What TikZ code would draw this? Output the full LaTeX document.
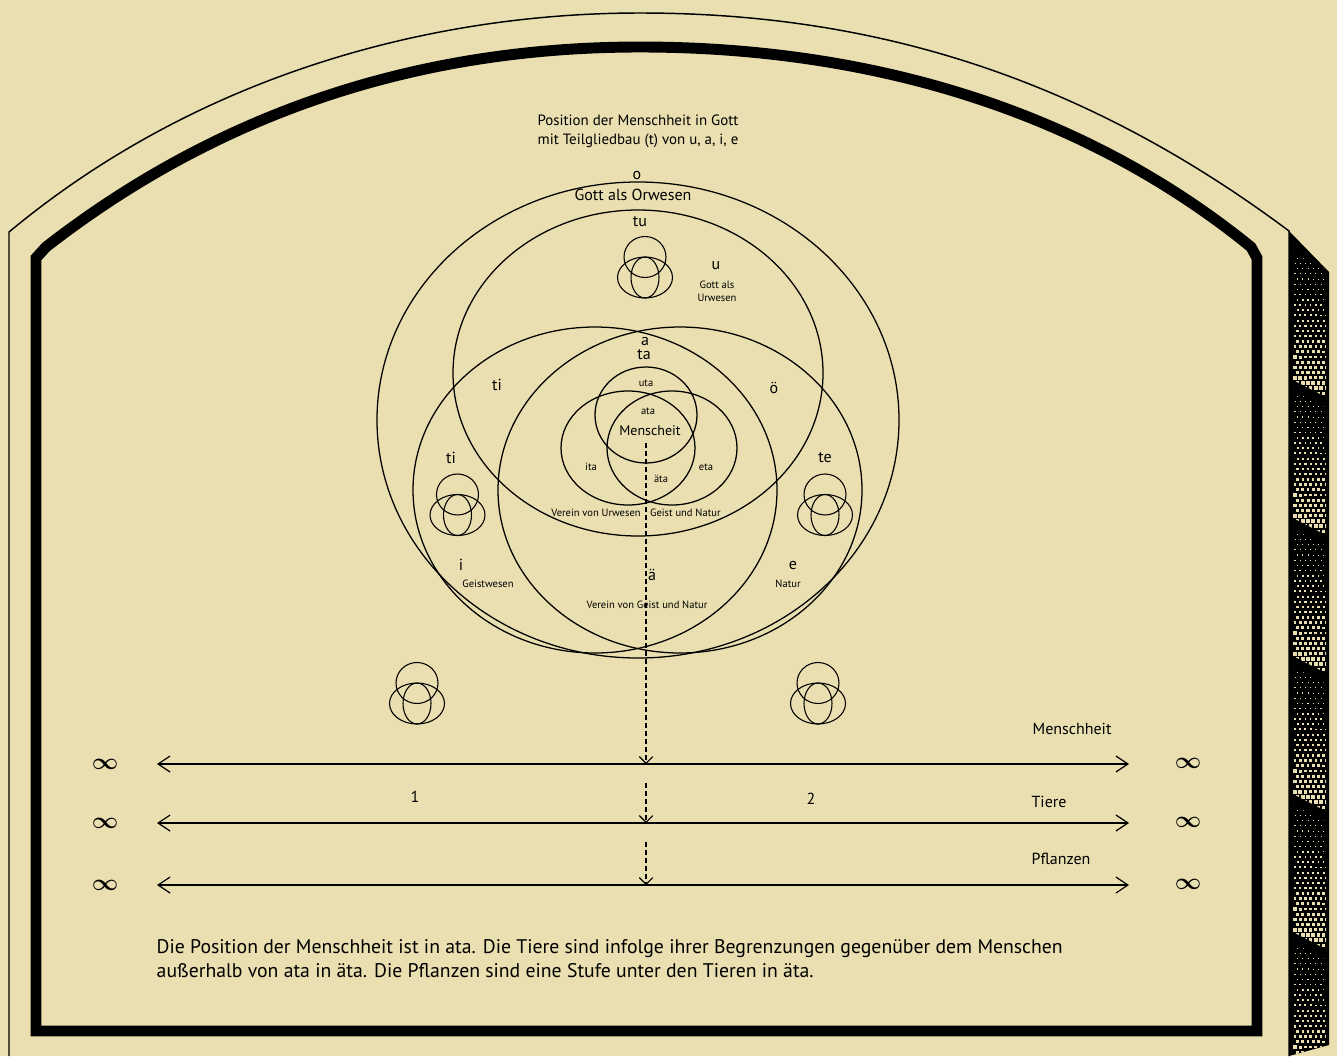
\documentclass[tikz,border=0pt]{standalone}
\usepackage{fontspec}
\setmainfont{PT Sans}
\usepackage{amsmath,bm}
\usetikzlibrary{arrows.meta,positioning}
\definecolor{paper}{RGB}{234,223,176}

\tikzset{
  thinframe/.style={line width=1.1pt, line join=miter},
  heavyframe/.style={line width=8.2pt, line join=miter},
  orb/.style={line width=0.95pt},
  orbsmall/.style={line width=0.8pt},
  lbl/.style={font=\fontsize{12}{13}\selectfont},
  mid/.style={font=\fontsize{10.5}{12}\selectfont},
  tiny/.style={font=\fontsize{7.9}{9.8}\selectfont, align=center},
  lvl/.style={font=\fontsize{12}{13}\selectfont},
  inf/.style={font=\fontsize{18}{18}\selectfont},
  level/.style={line width=1pt, >={Straight Barb[length=9pt,width=12pt,line width=0.9pt]}, <->},
  descent/.style={line width=1pt, dash pattern=on 3.6pt off 2.4pt,
    -{Straight Barb[length=5pt,width=10pt,line width=0.8pt]}},
  venn/.pic={
    \draw[orbsmall] (0,0) ellipse [x radius=21, y radius=20.5];
    \draw[orbsmall] (0,20.5) ellipse [x radius=27.5, y radius=20.5];
    \draw[orbsmall] (0,20.5) ellipse [x radius=14, y radius=20.5];
  }
}

\begin{document}
\begin{tikzpicture}[x=0.75pt, y=-0.75pt]
\fill[paper] (0,0) rectangle (1337,1056);
\useasboundingbox (0,0) rectangle (1337,1056);

% frame
\draw[thinframe] (9,1056) -- (9,232) -- (20,223)
  .. controls (210,70) and (440,13) .. (640,13)
  .. controls (870,13) and (1080,75) .. (1289,231) -- (1289,1056);
\draw[heavyframe] (36,1031) -- (36,258) -- (46,247)
  .. controls (235,100) and (440,47) .. (640,47)
  .. controls (850,47) and (1070,100) .. (1251,247) -- (1257,258) -- (1257,1031) -- cycle;

% side band
\fill (1289,231) -- (1329,272) -- (1329,1045) -- (1289,1056) -- cycle;
\begin{scope}
\clip (1289,231) -- (1329,272) -- (1329,1045) -- (1289,1056) -- cycle;
\foreach \s in {0,...,5}{
  \begin{scope}
  \clip (1293,253+138*\s) -- (1326,270+138*\s) -- (1326,397+138*\s) -- (1293,380+138*\s) -- cycle;
  \foreach \r in {0,...,28}{
    \foreach \c in {0,...,6}{
      \pgfmathsetmacro\dx{1295+\c*5.2+mod(\r,2)*2.6}
      \pgfmathsetmacro\dy{253+138*\s+\r*5.2}
      \pgfmathsetmacro\dh{max(0.2,0.3+0.012*(\dy-253-138*\s-(\dx-1293)*17/33))}
      \fill[paper] (\dx-\dh,\dy-\dh) rectangle (\dx+\dh,\dy+\dh);
    }}
  \end{scope}}
\end{scope}

% title
\node[font=\fontsize{11.2}{14.3}\selectfont, align=center] (title) at (638,131) {Position der Menschheit in Gott\\mit Teilgliedbau (t) von u, a, i, e};

% spheres
\draw[orb] (638,420) ellipse [x radius=261, y radius=238];
\draw[orb] (638,373) ellipse [x radius=185, y radius=163];
\draw[orb] (595,490) ellipse [x radius=182, y radius=163];
\draw[orb] (680,490) ellipse [x radius=182, y radius=163];
\draw[orb] (646,415) ellipse [x radius=51, y radius=48];
\draw[orb] (628,448) ellipse [x radius=67, y radius=57];
\draw[orb] (672,448) ellipse [x radius=65, y radius=57];

\pic at (645,257) {venn};
\pic at (457.5,494.5) {venn};
\pic at (825,494.5) {venn};
\pic at (417,683) {venn};
\pic at (818,683) {venn};

% labels
\node[lbl] (o) at (637,175) {o};
\node[lbl] (orwesen) at (633,195) {Gott als Orwesen};
\node[lbl] (tu) at (640,222) {tu};
\node[lbl] (u) at (716,266) {u};
\node[tiny] (urwesen) at (717,291) {Gott als\\Urwesen};
\node[lbl] (a) at (645,341) {a};
\node[lbl] (ta) at (644,355) {ta};
\node[lbl] (tiup) at (497,385) {ti};
\node[lbl] (oe) at (774,388) {ö};
\node[tiny] (uta) at (646,383) {uta};
\node[tiny] (ata) at (648,411) {ata};
\node[mid] (mensch) at (650,431) {Menscheit};
\node[tiny] (ita) at (591,467) {ita};
\node[tiny] (aeta) at (661,479) {äta};
\node[tiny] (eta) at (706,467) {eta};
\node[tiny] (verein3) at (636,513) {Verein von Urwesen\hspace{0.9em}Geist und Natur};
\node[lbl] (ti) at (451,458) {ti};
\node[lbl] (te) at (825,458) {te};
\node[lbl] (i) at (461,565) {i};
\node[tiny] (geist) at (488,584) {Geistwesen};
\node[lbl] (ae) at (652,575) {ä};
\node[tiny] (verein2) at (647,605) {Verein von Geist und Natur};
\node[lbl] (e) at (793,565) {e};
\node[tiny] (natur) at (788,584) {Natur};

% levels
\node[lvl] (menschheit) at (1072,729) {Menschheit};
\node[lvl] (tiere) at (1049,802) {Tiere};
\node[lvl] (pflanzen) at (1061,859) {Pflanzen};
\node[lbl] (one) at (415,797) {1};
\node[lbl] (two) at (811,799) {2};

\foreach \n/\y in {m/764, t/823, p/885}{
  \node[inf] (inf\n L) at (105,\y) {$\bm{\infty}$};
  \node[inf] (inf\n R) at (1188,\y-1) {$\bm{\infty}$};
  \coordinate (\n L) at (157,\y);
  \coordinate (\n R) at (1129,\y);
  \draw[level] (\n L) -- (\n R);
}

\coordinate (d0) at (646,443);
\coordinate (d1) at (646,764);
\coordinate (d2) at (646,783);
\coordinate (d3) at (646,823);
\coordinate (d4) at (646,842);
\coordinate (d5) at (646,885);
\draw[descent] (d0) -- (d1);
\draw[descent] (d2) -- (d3);
\draw[descent] (d4) -- (d5);

\node[font=\fontsize{14.8}{18}\selectfont, align=left, anchor=north west] (note) at (152,935)
  {Die Position der Menschheit ist in ata. Die Tiere sind infolge ihrer Begrenzungen gegenüber dem Menschen\\
   außerhalb von ata in äta. Die Pflanzen sind eine Stufe unter den Tieren in äta.};
\end{tikzpicture}
\end{document}
